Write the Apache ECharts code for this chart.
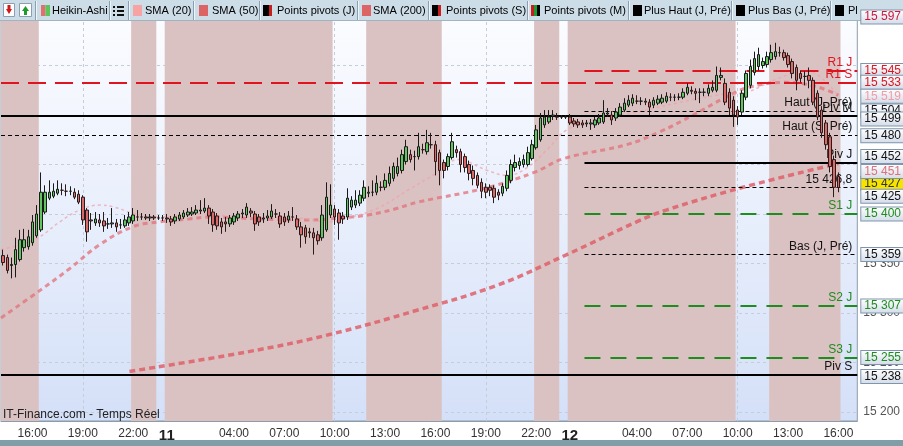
<!DOCTYPE html>
<html><head><meta charset="utf-8">
<script src="https://cdn.jsdelivr.net/npm/echarts@6/dist/echarts.min.js"></script>
<style>html,body{margin:0;padding:0;background:#fff}#c{width:903px;height:446px}</style>
</head><body><div id="c"></div>
<script>
// ---------- DATA ----------
const startDay = 10, startTime = '14:15', stepMinutes = 15, slotCount = 204;
const categories = [];
(function(){ let d = startDay, m = 14*60+15;
  for (let i = 0; i < slotCount; i++) {
    categories.push(d + ' ' + String(Math.floor(m/60)).padStart(2,'0') + ':' + String(m%60).padStart(2,'0'));
    m += stepMinutes; if (m >= 1440) { m -= 1440; d++; }
  }})();
const labelKeys = ['10 16:00','10 19:00','10 22:00','11 00:00','11 04:00','11 07:00','11 10:00','11 13:00','11 16:00','11 19:00','11 22:00','12 00:00','12 04:00','12 07:00','12 10:00','12 13:00','12 16:00'];
const tickKeys = labelKeys.concat(['11 01:00','12 01:00']);
const gridValues = [15200,15250,15300,15350,15400,15450,15500,15550];
const axisLabelValues = [15200,15250,15300,15350,15400,15450,15500];
// pink sessions [from, to]
const sessions = [['10 14:15','10 16:30'],['10 22:00','10 23:30'],['11 00:00','11 10:00'],['11 12:00','11 16:30'],['11 22:00','11 23:30'],['12 00:00','12 10:00'],['12 12:00','12 16:15']];
// Heikin-Ashi candles: [open, close, low, high]
const candles = [
[15358,15351,15348,15364],[15356,15343,15340,15359],[15348,15349,15335,15356],[15349,15364,15336,15376],[15354,15374,15352,15384],
[15366,15374,15362,15385],[15367,15377,15364,15384],[15371,15392,15368,15399],[15378,15400,15376,15409],[15384,15422,15382,15442],
[15402,15422,15400,15429],[15416,15422,15414,15434],[15418,15423,15416,15431],[15421,15425,15419,15434],[15424,15424,15419,15431],
[15423,15423,15418,15430],[15423,15423,15419,15428],[15422,15417,15415,15426],[15420,15412,15410,15424],[15417,15394,15389,15419],
[15404,15382,15372,15406],[15394,15393,15384,15401],[15391,15395,15388,15402],[15394,15391,15387,15400],[15393,15388,15382,15402],
[15390,15390,15385,15396],[15390,15391,15386,15406],[15391,15387,15382,15395],[15389,15389,15385,15395],[15388,15394,15386,15399],
[15391,15397,15388,15402],[15393,15399,15390,15406],[15397,15397,15393,15404],[15397,15397,15394,15401],[15397,15396,15394,15400],
[15396,15397,15393,15400],[15397,15396,15394,15399],[15396,15396,15394,15399],[15396,15396,15393,15399],[15396,15395,15391,15400],
[15395,15392,15388,15398],[15393,15397,15390,15400],[15395,15399,15393,15402],[15397,15401,15395,15404],[15399,15402,15397,15406],
[15400,15402,15398,15407],[15401,15404,15399,15409],[15403,15404,15400,15414],[15403,15406,15401,15416],[15406,15398,15390,15409],
[15402,15389,15382,15405],[15398,15388,15384,15401],[15392,15387,15380,15396],[15392,15390,15382,15397],[15390,15396,15387,15399],
[15392,15398,15389,15401],[15396,15400,15393,15403],[15400,15401,15396,15405],[15399,15407,15396,15411],[15403,15401,15397,15406],
[15400,15390,15383,15403],[15397,15392,15388,15400],[15395,15396,15391,15401],[15396,15398,15393,15404],[15397,15403,15395,15410],
[15400,15400,15396,15405],[15398,15390,15386,15402],[15397,15392,15388,15401],[15394,15398,15391,15403],[15397,15397,15393,15407],
[15395,15387,15384,15399],[15387,15379,15366,15392],[15386,15377,15370,15389],[15382,15381,15376,15386],[15381,15376,15359,15386],
[15379,15373,15369,15383],[15376,15399,15373,15409],[15384,15417,15382,15432],[15399,15409,15396,15430],[15405,15397,15389,15409],
[15401,15391,15374,15405],[15398,15395,15390,15402],[15397,15416,15394,15426],[15407,15414,15404,15418],[15409,15414,15406,15424],
[15411,15419,15408,15424],[15416,15427,15413,15434],[15421,15422,15417,15428],[15422,15422,15418,15434],[15422,15431,15419,15439],
[15427,15427,15423,15433],[15427,15434,15424,15441],[15431,15441,15428,15448],[15436,15448,15433,15452],[15441,15448,15438,15457],
[15444,15460,15441,15465],[15453,15468,15450,15475],[15460,15455,15452,15465],[15458,15458,15444,15464],[15458,15468,15455,15482],
[15465,15465,15461,15471],[15463,15472,15460,15485],[15470,15470,15466,15482],[15470,15453,15439,15474],[15462,15444,15429,15465],
[15452,15444,15436,15455],[15448,15458,15444,15461],[15457,15473,15455,15482],[15465,15462,15457,15469],[15463,15450,15442,15466],
[15458,15447,15442,15461],[15450,15441,15434,15454],[15444,15436,15429,15449],[15439,15429,15426,15442],[15432,15423,15416,15436],
[15427,15422,15416,15431],[15427,15424,15418,15430],[15426,15417,15411,15429],[15422,15419,15414,15425],[15421,15428,15418,15431],
[15426,15439,15423,15444],[15434,15450,15431,15455],[15447,15452,15443,15460],[15449,15453,15445,15457],[15450,15455,15447,15460],
[15450,15462,15448,15468],[15456,15470,15454,15475],[15467,15485,15465,15490],[15475,15497,15473,15502],[15490,15498,15487,15505],
[15493,15498,15491,15505],[15499,15500,15495,15505],[15498,15498,15495,15502],[15498,15498,15496,15500],[15498,15498,15496,15500],
[15498,15492,15490,15501],[15494,15491,15488,15497],[15493,15490,15487,15496],[15492,15490,15487,15495],[15491,15492,15488,15495],
[15491,15492,15485,15496],[15490,15495,15487,15498],[15492,15497,15490,15501],[15493,15502,15491,15515],[15501,15502,15498,15507],
[15500,15495,15490,15504],[15497,15503,15494,15507],[15500,15508,15498,15512],[15505,15512,15503,15517],[15510,15515,15508,15520],
[15512,15517,15509,15521],[15514,15514,15511,15520],[15514,15514,15510,15518],[15514,15513,15510,15517],[15513,15508,15500,15516],
[15510,15515,15507,15518],[15512,15516,15510,15520],[15513,15517,15511,15521],[15514,15519,15512,15523],[15518,15518,15514,15522],
[15518,15518,15514,15521],[15518,15518,15515,15522],[15518,15523,15516,15527],[15522,15528,15520,15532],[15525,15524,15521,15529],
[15524,15522,15515,15527],[15523,15523,15512,15527],[15523,15523,15519,15527],[15522,15527,15519,15531],[15525,15528,15523,15535],
[15525,15540,15523,15549],[15538,15540,15535,15548],[15532,15513,15510,15537],[15523,15507,15500,15527],[15515,15500,15488,15519],
[15505,15498,15490,15509],[15503,15522,15500,15525],[15518,15542,15515,15545],[15530,15549,15527,15556],[15543,15557,15540,15564],
[15549,15561,15545,15568],[15550,15554,15547,15558],[15551,15559,15548,15564],[15556,15563,15553,15571],[15559,15564,15556,15573],
[15563,15563,15559,15569],[15563,15558,15555,15566],[15560,15551,15548,15563],[15554,15542,15537,15557],[15548,15535,15525,15551],
[15542,15537,15533,15545],[15539,15539,15530,15544],[15540,15535,15527,15548],[15535,15513,15510,15538],[15522,15498,15495,15525],
[15505,15482,15477,15509],[15492,15470,15465,15495],[15478,15448,15442,15482],[15455,15427,15417,15459],[15438,15426.8,15422,15442]
];
// moving averages: [slot index, value]
const sma20 = [[-0.5,15364],[4,15369],[8.7,15377],[13.5,15392],[18.2,15404],[23,15409],[26.5,15407],[30.8,15401],[37.2,15397],[46.7,15400],[53.8,15398],[60.9,15397],[70.4,15396],[77.5,15392],[82.2,15396],[89.3,15406],[96.4,15424],[103.5,15442],[108.3,15455],[115.4,15444],[120.1,15439],[124.9,15447],[129.6,15465],[134.3,15485],[141.5,15495],[150.9,15503],[160.4,15512],[169.9,15520],[177,15523],[184.1,15536],[191.2,15545],[199,15519]];
const sma50 = [[-0.5,15295],[9.5,15325],[15.9,15345],[23,15369],[30.8,15387],[37.2,15392],[44.3,15395],[49.7,15397],[60.9,15395],[72.7,15394],[80.5,15396],[86.9,15399],[93.3,15405],[98.8,15412],[114.7,15426],[126.5,15442],[133.6,15456],[148.5,15470],[156.4,15483],[164.4,15500],[172.2,15518],[177.7,15528],[186.5,15533],[193.5,15529],[199,15520]];
const sma200 = [[30.1,15241],[58.5,15261],[77.5,15278],[98.8,15303],[117.7,15328],[134.3,15359],[150.9,15392],[158,15404],[176.3,15427],[199,15451]];
// pivot levels
const pivotsDay = {piv: 15452, r1: 15545, s1: 15400, s2: 15307, s3: 15255};
const pivotsWeek = {piv: 15238, r1: 15533};
const pivotsMonth = {piv: 15499};
const prevDayHigh = 15504, prevDayLow = 15359, prevWeekHigh = 15480;
const lastPrice = 15426.8, dayLowMarker = 15425, topMarker = 15597;
const sma20Last = 15519, sma200Last = 15451;
const dayLevelsFrom = '12 01:00';
const legendLabels = ['Heikin-Ashi','SMA (20)','SMA (50)','Points pivots (J)','SMA (200)','Points pivots (S)','Points pivots (M)','Plus Haut (J, Pré)','Plus Bas (J, Pré)','Plus Haut (S, Pré)'];
const watermark = 'IT-Finance.com - Temps Réel';

// ---------- HELPERS ----------
const FONT = "'Liberation Sans', Arial, sans-serif";
const idx = k => categories.indexOf(k);
const fmt = v => { const s = (Math.round(v*10)/10).toString().split('.'); return s[0].replace(/\B(?=(\d{3})+(?!\d))/g,' ') + (s[1] ? ','+s[1] : ''); };
const fmtInt = v => String(Math.round(v)).replace(/\B(?=(\d{3})+(?!\d))/g,' ');
const labelSet = new Set(labelKeys.map(idx));
const tickSet = new Set(tickKeys.map(idx));
const dayFrom = idx(dayLevelsFrom) - 0.5, xEnd = slotCount - 0.5;

const RED = '#e0141e', GREEN = '#1e8c1e', BLACK = '#000';
const solid = {color: BLACK, width: 2, type: 'solid'};
const thinDash = {color: BLACK, width: 1, type: [4,3]};
const redDash = {color: RED, width: 2, type: [18,9]};
const greenDash = {color: GREEN, width: 2, type: [16,10]};

function full(v, ls, text, col) {
  return {yAxis: v, lineStyle: ls, label: {show: !!text, formatter: text || '', color: col || '#111'}};
}
function part(v, ls, text, col) {
  return [{coord: [dayFrom, v], lineStyle: ls, label: {show: !!text, formatter: text || '', color: col || '#111'}}, {coord: [xEnd, v]}];
}
const boxBg = {type:'linear', x:0, y:0, x2:0, y2:1, colorStops:[{offset:0,color:'#ffffff'},{offset:1,color:'#d3dce9'}]};
function box(v, col, dy, bg) {
  return {yAxis: v, label: {formatter: fmtInt(v), color: col, offset: [0, dy||0], backgroundColor: bg || boxBg}};
}
const boxLabel = {show:true, position:'end', distance:4, fontSize:12, fontFamily: FONT, lineHeight: 12,
  borderColor:'#7f95ad', borderWidth:1, padding:[1,8,0,3]};

// legend graphics
const Z = 30;
const g = [];
g.push({type:'rect', shape:{x:0,y:0,width:903,height:21}, style:{fill:'#cddde8'}, z:Z});
g.push({type:'line', shape:{x1:0,y1:20.5,x2:903,y2:20.5}, style:{stroke:'#9fb3c3'}, z:Z});
[35,109,128,193,259,357,428,527,628,731,830].forEach(x=>{
  g.push({type:'line', shape:{x1:x+0.5,y1:1,x2:x+0.5,y2:20}, style:{stroke:'#8aa0b2'}, z:Z+1});
  g.push({type:'line', shape:{x1:x+1.5,y1:1,x2:x+1.5,y2:20}, style:{stroke:'#eef4f8'}, z:Z+1});
});
g.push({type:'rect', shape:{x:3.5,y:3.5,width:11,height:13}, style:{fill:'#fff',stroke:'#8aa0b2'}, z:Z+1});
g.push({type:'polygon', shape:{points:[[6,9],[12,9],[9,14]]}, style:{fill:'#d01818'}, z:Z+2});
g.push({type:'rect', shape:{x:7.5,y:5,width:3,height:4}, style:{fill:'#d01818'}, z:Z+2});
g.push({type:'rect', shape:{x:19.5,y:3.5,width:12,height:13}, style:{fill:'#fff',stroke:'#8aa0b2'}, z:Z+1});
g.push({type:'polygon', shape:{points:[[22,11],[29,11],[25.5,6]]}, style:{fill:'#1e9a2e'}, z:Z+2});
g.push({type:'rect', shape:{x:24,y:11,width:3,height:4}, style:{fill:'#1e9a2e'}, z:Z+2});
[6,10,14].forEach(y=>{ g.push({type:'rect', shape:{x:113,y:y,width:2,height:2}, style:{fill:'#111'}, z:Z+2});
  g.push({type:'rect', shape:{x:117,y:y,width:7,height:2}, style:{fill:'#111'}, z:Z+2}); });
const sw = (x, cols) => { const w = 9/cols.length; cols.forEach((c,i)=> g.push({type:'rect', shape:{x:x+i*w,y:5,width:w,height:11}, style:{fill:c}, z:Z+2})); };
sw(41,['#e07070','#5cc45c']); sw(133,['#f7a3a3']); sw(199,['#dc6464']); sw(263,['#000','#000','#c81e1e']);
sw(362,['#dc6464']); sw(432,['#000','#000','#c81e1e']); sw(531,['#c81e1e','#1e9a2e','#000']); sw(633,['#000']); sw(736,['#000']); sw(835,['#000']);
const textX = [52,145,212,277,373,446,544,644,748,848];
legendLabels.forEach((t,i)=> g.push({type:'text', x:textX[i], y:5, style:{text:t, fill:'#000', font:'11px ' + FONT, width: i===9 ? 16 : 200, overflow:'truncate', ellipsis:''}, z:Z+2}));
g.push({type:'text', x:3, y:409, style:{text: watermark, fill:'#222', font:'12px ' + FONT}, z:Z});
g.push({type:'rect', shape:{x:0,y:440,width:903,height:6}, style:{fill:'#7f9ea8'}, z:Z});

const chart = echarts.init(document.getElementById('c'), null, {renderer:'canvas'});
chart.setOption({
  animation: false,
  backgroundColor: '#ffffff',
  textStyle: {fontFamily: FONT},
  grid: {left: 1, right: 41, top: 19, bottom: 25, show: true, borderColor: '#8d9cab', borderWidth: 1,
    backgroundColor: {type:'linear', x:0, y:0, x2:0, y2:1, colorStops:[{offset:0,color:'#fbfcff'},{offset:1,color:'#d4e0f8'}]}},
  xAxis: [
    {type:'category', data: categories, boundaryGap: true,
      axisLine:{lineStyle:{color:'#8d9cab'}},
      axisTick:{alignWithLabel:true, interval:(i)=>tickSet.has(i), length:4, lineStyle:{color:'#8d9cab'}},
      axisLabel:{interval:(i)=>labelSet.has(i), color:'#333', fontSize:12, margin:7,
        formatter:(v)=>{ const [d,t] = v.split(' '); return t === '00:00' ? '{d|' + d + '}' : t; },
        rich:{d:{fontWeight:'bold', fontSize:15, color:'#222'}}},
      splitLine:{show:false}},
    {type:'value', min:-0.5, max: slotCount - 0.5, show:false}
  ],
  yAxis: {type:'value', position:'right', min:15190.9, max: topMarker, scale:true,
    axisLine:{show:true, lineStyle:{color:'#8d9cab'}},
    axisTick:{show:true, length:4, customValues: gridValues, lineStyle:{color:'#8d9cab'}},
    axisLabel:{customValues: axisLabelValues, color:'#555', fontSize:12, margin:6, formatter: v=>fmtInt(v)},
    splitLine:{show:false}},
  graphic: g,
  series: [
    {type:'line', name:'grid', xAxisIndex:1, data:[], z:1, silent:true,
      markLine:{z:1, silent:true, symbol:['none','none'], animation:false, label:{show:false},
        lineStyle:{color:'#c6ccd8', width:1, type:[3,3]},
        data: gridValues.map(v=>({yAxis:v})).concat(tickKeys.map(k=>({xAxis: idx(k)})))}},
    {type:'line', name:'sessions', xAxisIndex:1, data:[], z:2, silent:true,
      markArea:{z:2, silent:true, itemStyle:{color:'#dbc2c2'}, data: sessions.map(([a,b])=>[{xAxis: idx(a)-0.5},{xAxis: idx(b)-0.5}])}},
    {type:'line', name:'SMA (200)', xAxisIndex:1, data: sma200, smooth:0.4, symbol:'none', z:3,
      lineStyle:{color:'rgba(222,96,106,0.85)', width:3.5, type:[6,4]}},
    {type:'line', name:'SMA (50)', xAxisIndex:1, data: sma50, smooth:0.4, symbol:'none', z:3,
      lineStyle:{color:'rgba(226,112,122,0.75)', width:3, type:[5,4]}},
    {type:'line', name:'SMA (20)', xAxisIndex:1, data: sma20, smooth:0.4, symbol:'none', z:3,
      lineStyle:{color:'rgba(240,160,170,0.7)', width:1.5, type:[3,3]}},
    {type:'line', name:'levels', xAxisIndex:1, data:[], z:4, silent:true,
      markLine:{z:4, silent:true, symbol:['none','none'], animation:false,
        label:{position:'insideEndTop', fontSize:12, distance:[5,2], fontFamily: FONT},
        data:[
          full(pivotsWeek.r1, redDash, 'R1 S', RED),
          part(pivotsDay.r1, redDash, 'R1 J', RED),
          part(prevDayHigh, thinDash, 'Haut (J, Pré)'),
          full(pivotsMonth.piv, solid, 'Piv M'),
          full(prevWeekHigh, thinDash, 'Haut (S, Pré)'),
          part(pivotsDay.piv, solid, 'Piv J'),
          part(lastPrice, thinDash, fmt(lastPrice)),
          part(pivotsDay.s1, greenDash, 'S1 J', GREEN),
          part(prevDayLow, thinDash, 'Bas (J, Pré)'),
          part(pivotsDay.s2, greenDash, 'S2 J', GREEN),
          part(pivotsDay.s3, greenDash, 'S3 J', GREEN),
          full(pivotsWeek.piv, solid, 'Piv S')
        ]}},
    {type:'candlestick', name:'Heikin-Ashi', data: candles, barWidth: 3, z:6,
      itemStyle:{color:'#5fc65f', color0:'#d86a6a', borderColor:'#1a1a1a', borderColor0:'#2a1a1a', borderWidth:1}},
    {type:'line', name:'axisMarkers', xAxisIndex:1, data:[], z:20, silent:true,
      markLine:{z:20, silent:true, symbol:['none','none'], animation:false,
        lineStyle:{width:0, color:'rgba(0,0,0,0)'}, label: boxLabel,
        data:[
          box(pivotsDay.r1, RED), box(pivotsWeek.r1, RED), box(sma20Last, '#f29aa6'),
          box(prevDayHigh, '#111'), box(pivotsMonth.piv, '#111', 3), box(prevWeekHigh, '#111', 1),
          box(lastPrice, '#333', -4, '#f5e400'),
          box(pivotsDay.piv, '#111', -6), box(sma200Last, '#e0707a', 8), box(dayLowMarker, '#111', 7),
          box(pivotsDay.s1, GREEN), box(prevDayLow, '#111'), box(pivotsDay.s2, GREEN), box(pivotsDay.s3, GREEN),
          box(pivotsWeek.piv, '#111', 2)
        ]}},
    {type:'line', name:'topMarker', xAxisIndex:1, data:[], z:40, silent:true,
      markLine:{z:40, silent:true, symbol:['none','none'], animation:false,
        lineStyle:{width:0, color:'rgba(0,0,0,0)'}, label: boxLabel,
        data:[ box(topMarker, '#d4163c', -2) ]}}
  ]
});
</script></body></html>
